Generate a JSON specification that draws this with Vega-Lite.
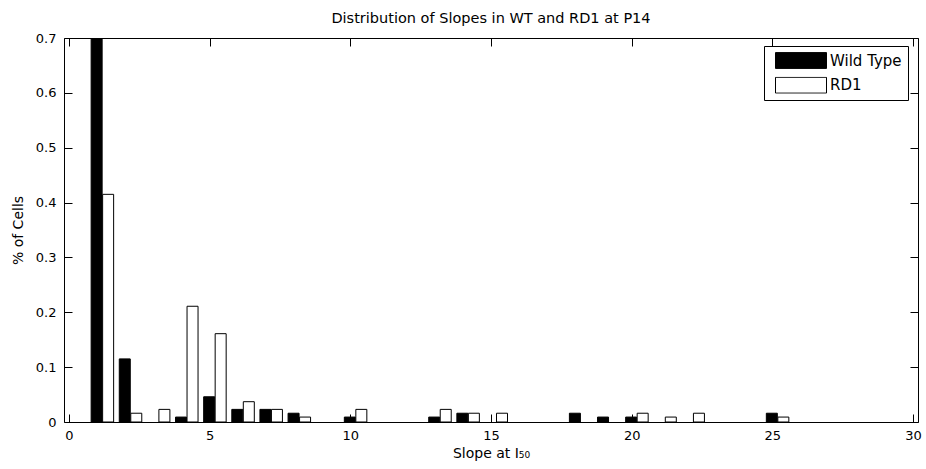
{
  "$schema": "https://vega.github.io/schema/vega-lite/v6.json",
  "width": 854,
  "height": 384,
  "autosize": {"type": "none"},
  "padding": {"left": 64, "top": 38, "right": 8, "bottom": 47},
  "background": "white",
  "title": {"text": "Distribution of Slopes in WT and RD1 at P14", "font": "DejaVu Sans", "fontSize": 14.5, "fontWeight": "normal", "color": "black", "offset": 6, "anchor": "middle"},
  "config": {
    "view": {"stroke": null},
    "axis": {"grid": false, "domainColor": "black", "tickColor": "black", "labelColor": "black", "titleColor": "black", "labelFont": "DejaVu Sans", "labelFontSize": 13, "titleFont": "DejaVu Sans", "titleFontSize": 14, "titleFontWeight": "normal", "tickSize": -8, "domainWidth": 1, "tickWidth": 1}
  },
  "data": {"values": [
    {"slope": 1, "group": "Wild Type", "pct": 0.7},
    {"slope": 2, "group": "Wild Type", "pct": 0.115},
    {"slope": 4, "group": "Wild Type", "pct": 0.009},
    {"slope": 5, "group": "Wild Type", "pct": 0.046},
    {"slope": 6, "group": "Wild Type", "pct": 0.023},
    {"slope": 7, "group": "Wild Type", "pct": 0.023},
    {"slope": 8, "group": "Wild Type", "pct": 0.016},
    {"slope": 10, "group": "Wild Type", "pct": 0.009},
    {"slope": 13, "group": "Wild Type", "pct": 0.009},
    {"slope": 14, "group": "Wild Type", "pct": 0.016},
    {"slope": 18, "group": "Wild Type", "pct": 0.016},
    {"slope": 19, "group": "Wild Type", "pct": 0.009},
    {"slope": 20, "group": "Wild Type", "pct": 0.009},
    {"slope": 25, "group": "Wild Type", "pct": 0.016},
    {"slope": 1, "group": "RD1", "pct": 0.415},
    {"slope": 2, "group": "RD1", "pct": 0.016},
    {"slope": 3, "group": "RD1", "pct": 0.023},
    {"slope": 4, "group": "RD1", "pct": 0.211},
    {"slope": 5, "group": "RD1", "pct": 0.161},
    {"slope": 6, "group": "RD1", "pct": 0.037},
    {"slope": 7, "group": "RD1", "pct": 0.023},
    {"slope": 8, "group": "RD1", "pct": 0.009},
    {"slope": 10, "group": "RD1", "pct": 0.023},
    {"slope": 13, "group": "RD1", "pct": 0.023},
    {"slope": 14, "group": "RD1", "pct": 0.016},
    {"slope": 15, "group": "RD1", "pct": 0.016},
    {"slope": 20, "group": "RD1", "pct": 0.016},
    {"slope": 21, "group": "RD1", "pct": 0.009},
    {"slope": 22, "group": "RD1", "pct": 0.016},
    {"slope": 25, "group": "RD1", "pct": 0.009}
  ]},
  "layer": [
    {
      "transform": [{"filter": "datum.group === 'Wild Type'"}],
      "mark": {"type": "bar", "size": 11, "stroke": "black", "strokeWidth": 1, "xOffset": -0.5, "clip": true},
      "encoding": {
        "x": {"field": "slope", "type": "quantitative", "scale": {"domain": [0, 30], "nice": false, "zero": false},
              "axis": {"orient": "bottom", "values": [0, 5, 10, 15, 20, 25, 30], "format": "d", "title": "Slope at I₅₀", "labelPadding": 15, "titlePadding": 4}},
        "y": {"field": "pct", "type": "quantitative", "scale": {"domain": [0, 0.7], "nice": false},
              "axis": {"orient": "left", "values": [0, 0.1, 0.2, 0.3, 0.4, 0.5, 0.6, 0.7], "format": "~g", "title": "% of Cells", "labelPadding": 16, "titlePadding": 10}},
        "fill": {"field": "group", "type": "nominal", "scale": {"domain": ["Wild Type", "RD1"], "range": ["black", "white"]},
                 "legend": {"title": null, "orient": "none", "legendX": 700, "legendY": 8, "direction": "vertical", "symbolType": "M-1,-0.31H1V0.31H-1Z", "symbolSize": 2601, "clipHeight": 17, "symbolOffset": 5, "symbolStrokeColor": "black", "symbolStrokeWidth": 1, "symbolOpacity": 1, "labelFont": "DejaVu Sans", "labelFontSize": 15, "labelColor": "black", "labelOffset": 3, "labelExpr": "datum.label + '\u00a0'", "strokeColor": "black", "fillColor": "white", "padding": 6, "rowPadding": 7.7, "cornerRadius": 0}}
      }
    },
    {
      "transform": [{"filter": "datum.group === 'RD1'"}],
      "mark": {"type": "bar", "size": 11, "stroke": "black", "strokeWidth": 1, "xOffset": 11, "clip": true},
      "encoding": {
        "x": {"field": "slope", "type": "quantitative",
              "axis": {"orient": "top", "values": [0, 5, 10, 15, 20, 25, 30], "labels": false, "title": null}},
        "y": {"field": "pct", "type": "quantitative",
              "axis": {"orient": "right", "values": [0, 0.1, 0.2, 0.3, 0.4, 0.5, 0.6, 0.7], "labels": false, "title": null}},
        "fill": {"field": "group", "type": "nominal"}
      }
    }
  ],
  "resolve": {"axis": {"x": "independent", "y": "independent"}}
}
